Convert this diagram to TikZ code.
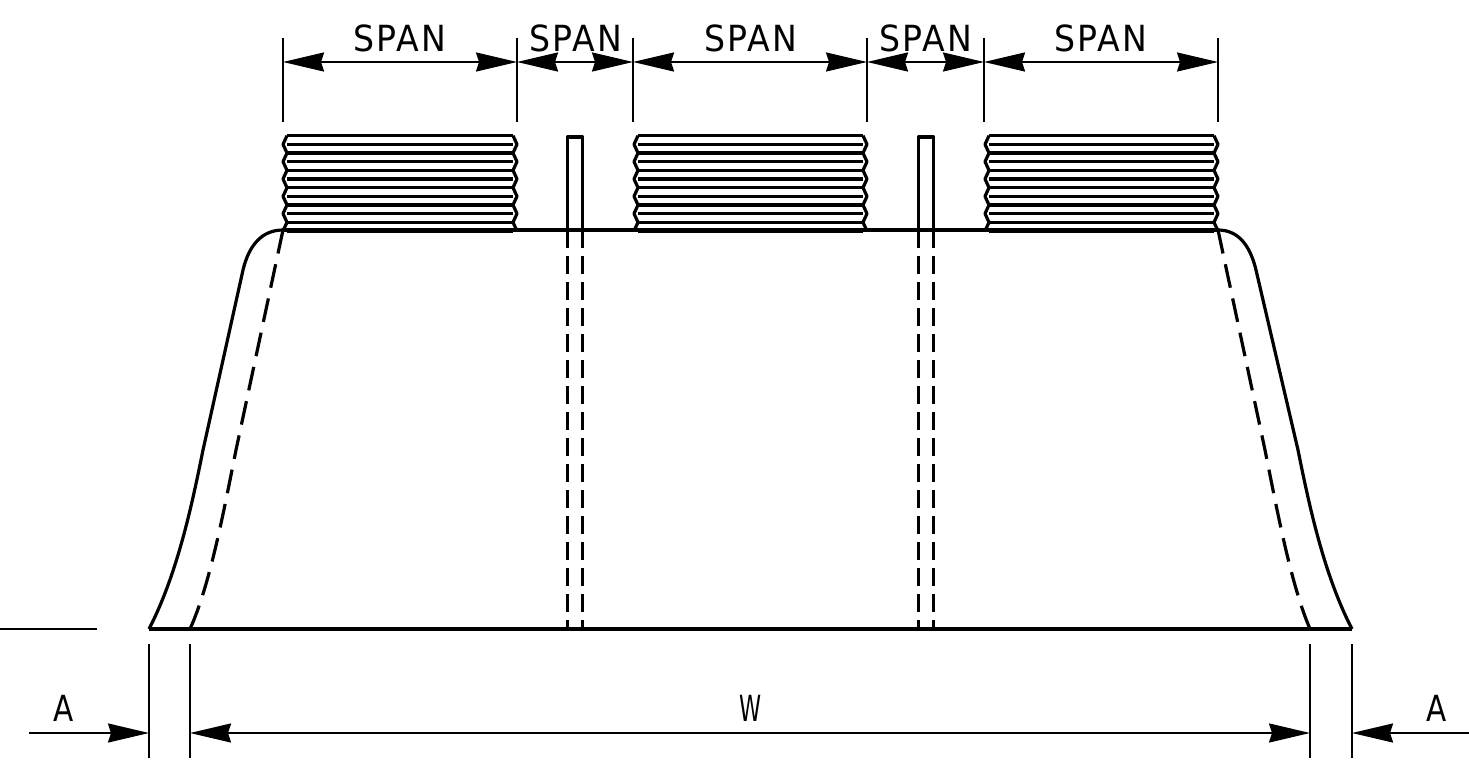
\documentclass[tikz,border=0pt]{standalone}
\usepackage{fontspec}
\newfontfamily\cadfont[LetterSpace=7]{DejaVu Sans}
\usetikzlibrary{arrows.meta, positioning, calc}

\tikzset{
  outline/.style={line width=3.2pt, line join=round},
  baseline/.style={line width=4pt},
  hidden/.style={line width=3.2pt, dash pattern=on 17.5pt off 8.5pt},
  hiddenside/.style={line width=3.2pt, dash pattern=on 24pt off 11pt},
  dimline/.style={line width=2pt},
  dimarrow/.style={line width=2pt, arrows={Stealth[length=41pt, width=19pt, inset=3pt]-Stealth[length=41pt, width=19pt, inset=3pt]}},
  pointer/.style={line width=2pt, arrows={-Stealth[length=41pt, width=19pt, inset=3pt]}},
  dimtext/.style={inner sep=0pt, font=\fontsize{36}{36}\cadfont, transform shape, xscale=0.82},
  spantext/.style={inner sep=0pt, font=\fontsize{36}{36}\cadfont, transform shape, xscale=0.92},
  widthtext/.style={inner sep=0pt, font=\fontsize{36}{36}\cadfont, transform shape, xscale=0.62}
}

\begin{document}
\begin{tikzpicture}[x=1pt, y=-1pt]
  \useasboundingbox (0,0) rectangle (1469,762);

  % threaded blocks on top of the body
  \foreach \xl/\xr in {283/517, 634/867, 985/1218} {
    \foreach \i in {0,...,11}
      \draw[outline] ({\xl+4},{135.7+8.66*\i}) -- ({\xr-4},{135.7+8.66*\i});
    \draw[outline] ({\xl+4},135.7)
      \foreach \i in {1,...,11} { -- ({\xl+4*mod(\i+1,2)},{135.7+8.66*\i}) };
    \draw[outline] ({\xr-4},135.7)
      \foreach \i in {1,...,11} { -- ({\xr-4*mod(\i+1,2)},{135.7+8.66*\i}) };
  }

  % outer corners of the body
  \coordinate (topleft) at (283,230);
  \coordinate (topright) at (1218,230);
  \coordinate (baseleft) at (149,629);
  \coordinate (baseright) at (1352,629);
  \coordinate (hiddenleft) at (190,629);
  \coordinate (hiddenright) at (1310,629);

  % body
  \draw[outline] (topleft) -- (topright);
  \draw[baseline] (baseleft) -- (baseright);
  \draw[outline] (baseleft) .. controls (177,575) and (192,505) .. (203,450)
    -- (243,270) .. controls (249,245) and (262,230) .. (topleft);
  \draw[outline] (baseright) .. controls (1324,575) and (1309,505) .. (1298,450)
    -- (1256,270) .. controls (1250,245) and (1238,230) .. (topright);
  \draw[hiddenside] (topleft) -- (236,450) .. controls (224,510) and (210,585) .. (hiddenleft);
  \draw[hiddenside] (topright) -- (1265,450) .. controls (1277,510) and (1291,585) .. (hiddenright);

  % slots
  \foreach \xs in {567.5, 918.5} {
    \draw[outline] (\xs,230) -- (\xs,137) -- ({\xs+15},137) -- ({\xs+15},230);
    \draw[hidden] (\xs,230) -- (\xs,629);
    \draw[hidden] ({\xs+15},230) -- ({\xs+15},629);
  }

  % dimensions along the top
  \foreach \name/\xd in {a/283, b/517, c/633, d/867, e/984, f/1218} {
    \coordinate (\name top) at (\xd,38);
    \coordinate (\name bot) at (\xd,122);
    \coordinate (\name dim) at (\xd,62);
    \draw[dimline] (\name top) -- (\name bot);
  }
  \draw[dimarrow] (adim) -- (bdim);
  \draw[dimarrow] (bdim) -- (cdim);
  \draw[dimarrow] (cdim) -- (ddim);
  \draw[dimarrow] (ddim) -- (edim);
  \draw[dimarrow] (edim) -- (fdim);
  \node[spantext] (spana) at (400,38.5) {SPAN};
  \node[spantext] (spanb) at (576,38.5) {SPAN};
  \node[spantext] (spanc) at (751,38.5) {SPAN};
  \node[spantext] (spand) at (926,38.5) {SPAN};
  \node[spantext] (spane) at (1101,38.5) {SPAN};

  % dimensions along the bottom
  \foreach \name/\xd in {g/149, h/190, i/1310, j/1352} {
    \coordinate (\name top) at (\xd,644);
    \coordinate (\name bot) at (\xd,758);
    \coordinate (\name dim) at (\xd,733);
    \draw[dimline] (\name top) -- (\name bot);
  }
  \coordinate (leftstart) at (29,733);
  \coordinate (rightstart) at (1469,733);
  \coordinate (groundleft) at (0,629);
  \coordinate (groundright) at (97,629);
  \draw[dimline] (groundleft) -- (groundright);
  \draw[pointer] (leftstart) -- (gdim);
  \draw[pointer] (rightstart) -- (jdim);
  \draw[dimarrow] (hdim) -- (idim);
  \node[dimtext] (leftA) at (64,708) {A};
  \node[widthtext] (labelW) at (751,708) {W};
  \node[dimtext] (rightA) at (1437,708) {A};
\end{tikzpicture}
\end{document}
